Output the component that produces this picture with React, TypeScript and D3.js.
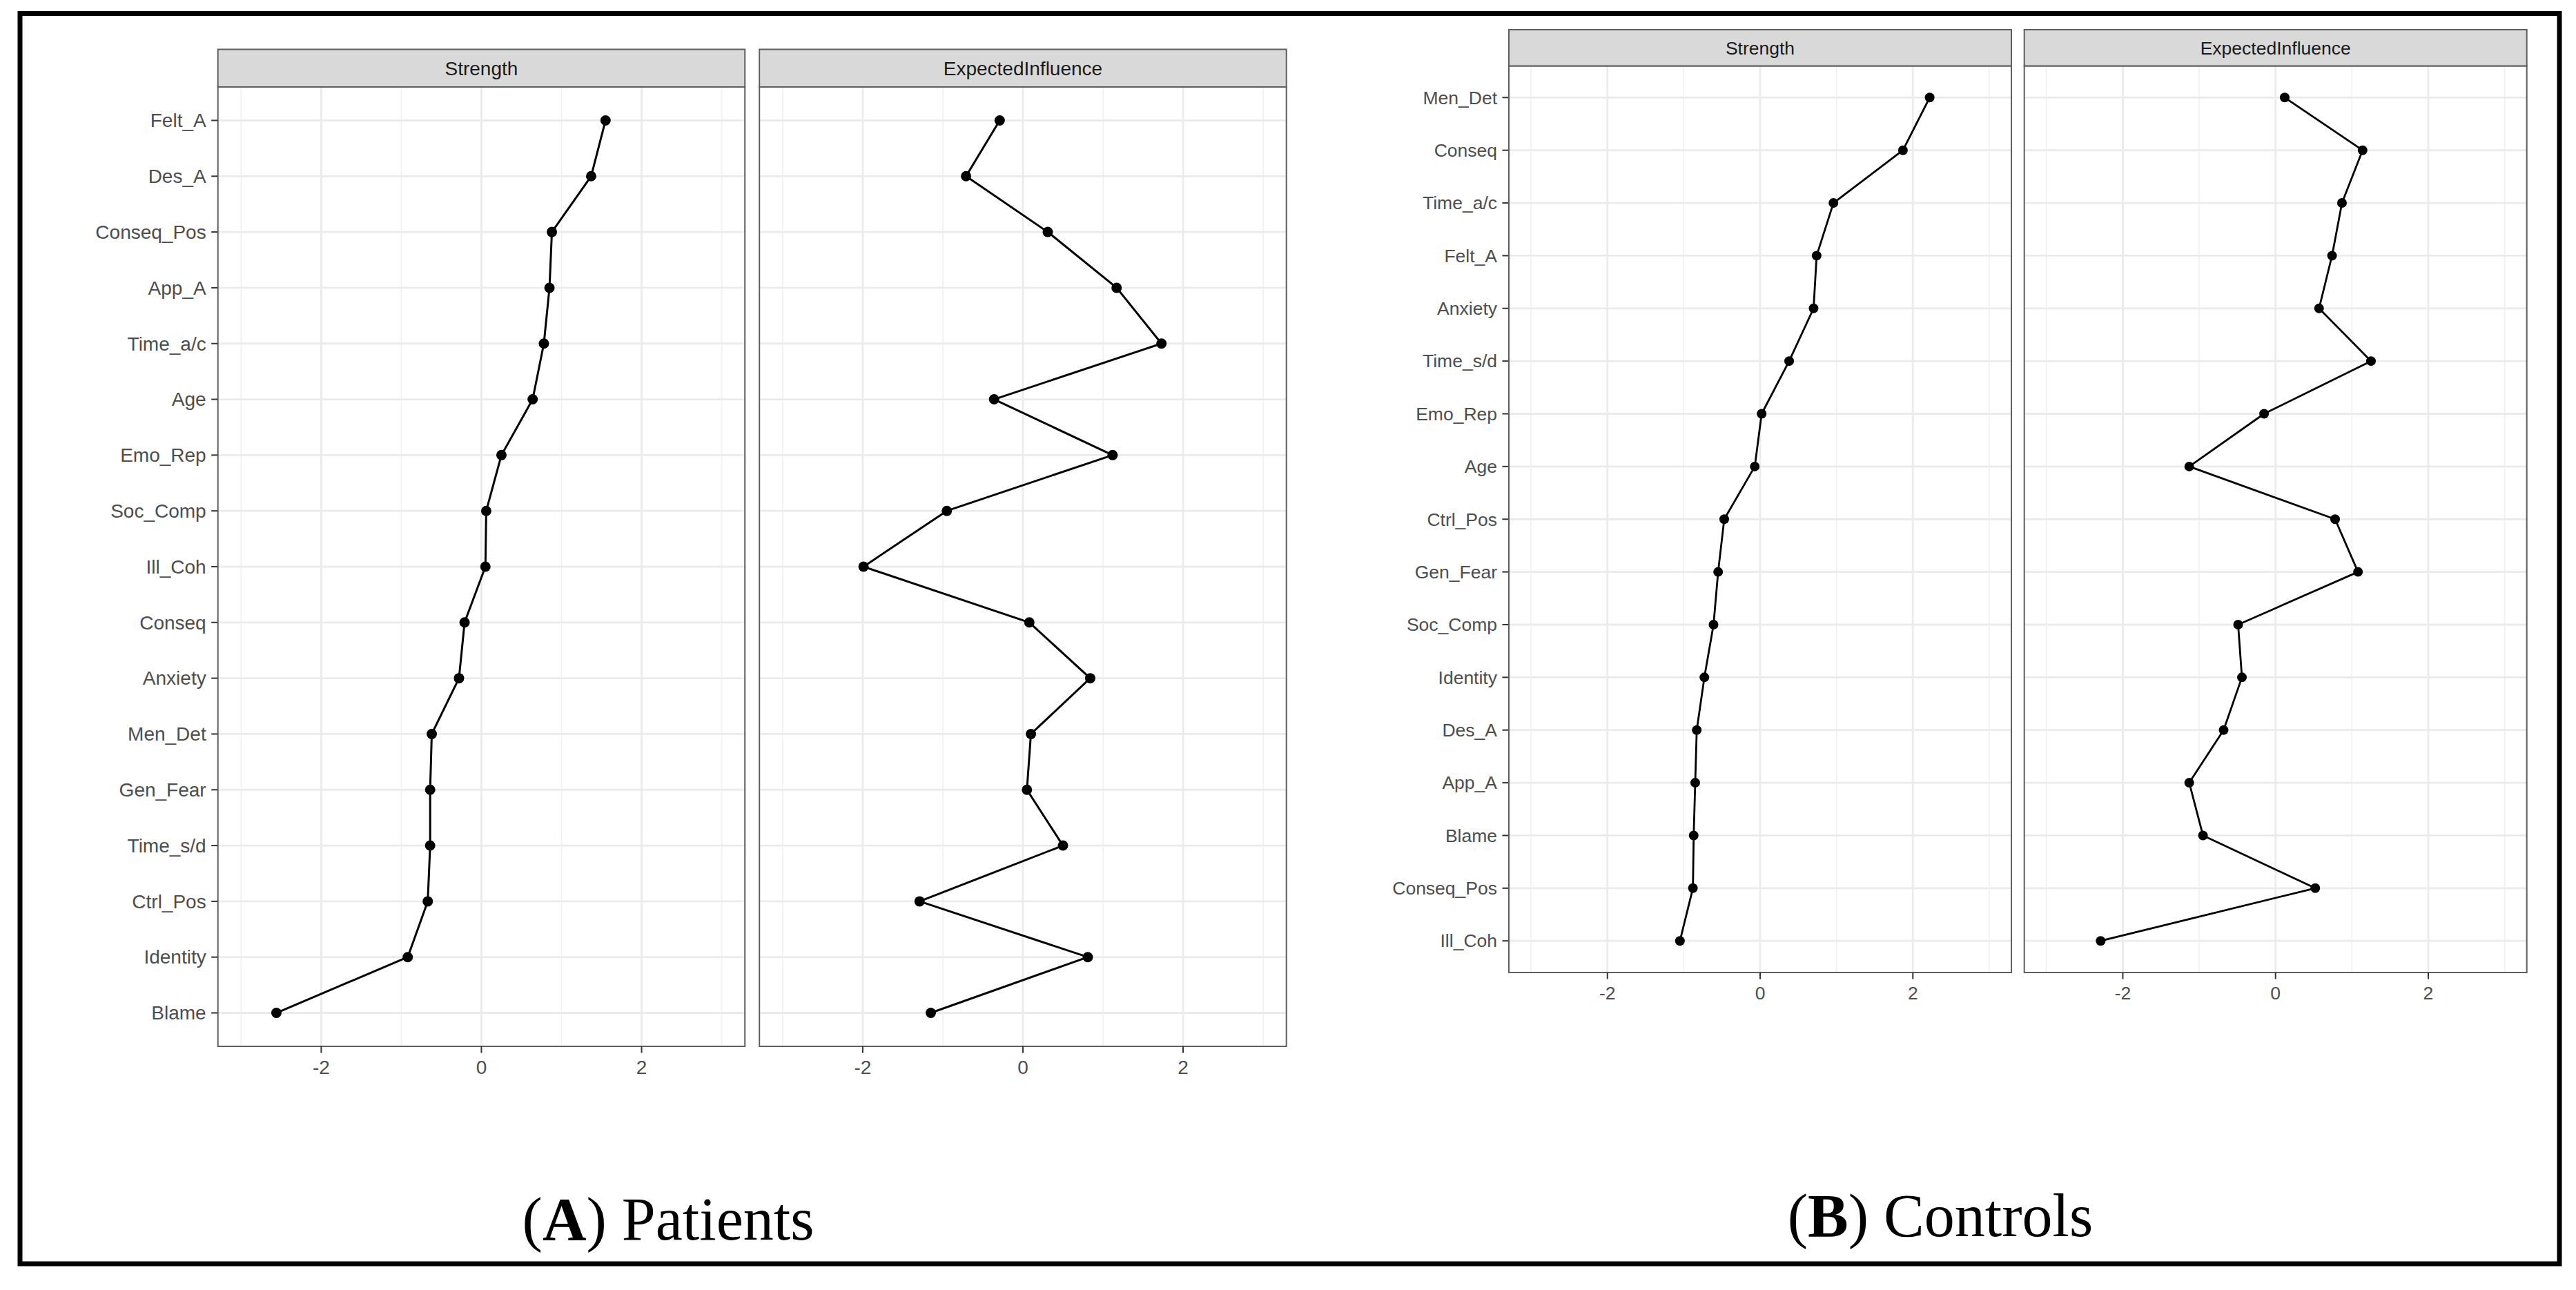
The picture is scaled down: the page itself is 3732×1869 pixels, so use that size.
import * as d3 from "d3";

// Patients (A)
const patientNodes = ["Felt_A", "Des_A", "Conseq_Pos", "App_A", "Time_a/c", "Age", "Emo_Rep", "Soc_Comp", "Ill_Coh", "Conseq", "Anxiety", "Men_Det", "Gen_Fear", "Time_s/d", "Ctrl_Pos", "Identity", "Blame"];
const patientStrength = [1.55, 1.37, 0.88, 0.85, 0.78, 0.64, 0.25, 0.06, 0.05, -0.21, -0.28, -0.62, -0.64, -0.64, -0.67, -0.92, -2.56];
const patientEI = [-0.29, -0.71, 0.31, 1.17, 1.73, -0.36, 1.12, -0.95, -1.99, 0.08, 0.84, 0.1, 0.05, 0.5, -1.29, 0.81, -1.15];

// Controls (B)
const controlNodes = ["Men_Det", "Conseq", "Time_a/c", "Felt_A", "Anxiety", "Time_s/d", "Emo_Rep", "Age", "Ctrl_Pos", "Gen_Fear", "Soc_Comp", "Identity", "Des_A", "App_A", "Blame", "Conseq_Pos", "Ill_Coh"];
const controlStrength = [2.22, 1.87, 0.96, 0.74, 0.7, 0.38, 0.02, -0.07, -0.47, -0.55, -0.61, -0.73, -0.83, -0.85, -0.87, -0.88, -1.05];
const controlEI = [0.12, 1.14, 0.87, 0.74, 0.57, 1.25, -0.15, -1.13, 0.78, 1.08, -0.49, -0.44, -0.68, -1.13, -0.95, 0.52, -2.29];

const measures = ["Strength", "ExpectedInfluence"];
const majorTicks = [-2, 0, 2];
const minorTicks = [-3, -1, 1, 3];
const xDomain = [-3.29, 3.29];

const SANS = "'Liberation Sans', Arial, Helvetica, sans-serif";
const SERIF = "'Liberation Serif', 'Times New Roman', serif";

type Layout = {
  stripTop: number;
  stripBottom: number;
  bottom: number;
  lefts: number[];
  width: number;
  font: number;
  r: number;
  lw: number;
};

const layoutA: Layout = { stripTop: 71.5, stripBottom: 126, bottom: 1516, lefts: [315.7, 1100.2], width: 763.5, font: 28, r: 7.5, lw: 3 };
const layoutB: Layout = { stripTop: 43, stripBottom: 95.5, bottom: 1409, lefts: [2186, 2932.7], width: 728, font: 26.5, r: 7, lw: 2.8 };

const Group = ({ nodes, series, layout }: { nodes: string[]; series: number[][]; layout: Layout }) => {
  const y = d3.scalePoint().domain(nodes).range([layout.stripBottom, layout.bottom]).padding(0.6);
  const L = layout;

  return (
    <g>
      {/* y axis labels and ticks on the first facet */}
      {nodes.map((n) => (
        <g key={n}>
          <line x1={L.lefts[0] - 9.5} x2={L.lefts[0]} y1={y(n)} y2={y(n)} stroke="#333" strokeWidth={2} />
          <text x={L.lefts[0] - 17} y={y(n)} dy="0.35em" textAnchor="end" fontFamily={SANS} fontSize={L.font} fill="#4d4d4d">
            {n}
          </text>
        </g>
      ))}

      {measures.map((m, i) => {
        const left = L.lefts[i];
        const x = d3.scaleLinear().domain(xDomain).range([left, left + L.width]);
        const vals = series[i];
        const line = d3
          .line<number>()
          .x((d) => x(d))
          .y((_, k) => y(nodes[k]) as number);
        return (
          <g key={m}>
            {/* panel background + grid */}
            <rect x={left} y={L.stripBottom} width={L.width} height={L.bottom - L.stripBottom} fill="#fff" />
            {minorTicks.map((t) => (
              <line key={"mn" + t} x1={x(t)} x2={x(t)} y1={L.stripBottom} y2={L.bottom} stroke="#f0f0f0" strokeWidth={1.6} />
            ))}
            {majorTicks.map((t) => (
              <line key={"mj" + t} x1={x(t)} x2={x(t)} y1={L.stripBottom} y2={L.bottom} stroke="#ebebeb" strokeWidth={2.8} />
            ))}
            {nodes.map((n) => (
              <line key={"h" + n} x1={left} x2={left + L.width} y1={y(n)} y2={y(n)} stroke="#ebebeb" strokeWidth={2.8} />
            ))}

            {/* data */}
            <path d={line(vals) || ""} fill="none" stroke="#000" strokeWidth={L.lw} strokeLinejoin="round" />
            {vals.map((v, k) => (
              <circle key={k} cx={x(v)} cy={y(nodes[k])} r={L.r} fill="#000" />
            ))}

            {/* panel border */}
            <rect x={left} y={L.stripBottom} width={L.width} height={L.bottom - L.stripBottom} fill="none" stroke="#5e5e5e" strokeWidth={2} />

            {/* strip */}
            <rect x={left} y={L.stripTop} width={L.width} height={L.stripBottom - L.stripTop} fill="#d9d9d9" stroke="#5e5e5e" strokeWidth={2} />
            <text x={left + L.width / 2} y={(L.stripTop + L.stripBottom) / 2} dy="0.35em" textAnchor="middle" fontFamily={SANS} fontSize={L.font} fill="#1a1a1a">
              {m}
            </text>

            {/* x axis */}
            {majorTicks.map((t) => (
              <g key={"xt" + t}>
                <line x1={x(t)} x2={x(t)} y1={L.bottom} y2={L.bottom + 9.5} stroke="#333" strokeWidth={2} />
                <text x={x(t)} y={L.bottom + 30} dy="0.35em" textAnchor="middle" fontFamily={SANS} fontSize={L.font} fill="#4d4d4d">
                  {t}
                </text>
              </g>
            ))}
          </g>
        );
      })}
    </g>
  );
};

const App = () => {
  return (
    <svg
      width={3732}
      height={1869}
      viewBox="0 0 3732 1869"
      style={{ position: "absolute", left: 0, top: 0, background: "#fff" }}
    >
      <rect x={0} y={0} width={3732} height={1869} fill="#fff" />
      <rect x={29} y={19.5} width={3679} height={1811.5} fill="none" stroke="#000" strokeWidth={7} />

      <Group nodes={patientNodes} series={[patientStrength, patientEI]} layout={layoutA} />
      <Group nodes={controlNodes} series={[controlStrength, controlEI]} layout={layoutB} />

      <text x={968} y={1796} textAnchor="middle" fontFamily={SERIF} fontSize={88} fill="#000">
        (<tspan fontWeight="bold">A</tspan>) Patients
      </text>
      <text x={2811} y={1791} textAnchor="middle" fontFamily={SERIF} fontSize={88} fill="#000">
        (<tspan fontWeight="bold">B</tspan>) Controls
      </text>
    </svg>
  );
};

export default App;
